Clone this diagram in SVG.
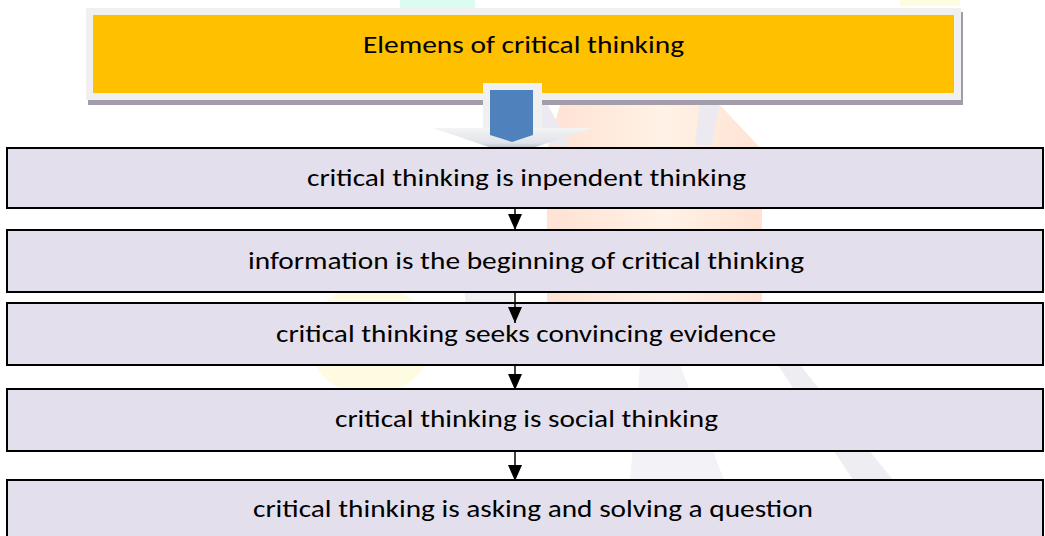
<svg xmlns="http://www.w3.org/2000/svg" width="1045" height="536" viewBox="0 0 1045 536">
<style>
.box{fill:#e4dfec;stroke:#000;stroke-width:2}
.t{font-family:Carlito,Calibri,"Liberation Sans",sans-serif;font-size:25px;fill:#000;text-anchor:middle}
.c{stroke:#000;stroke-width:1.5;fill:none}
</style>
<defs>
<marker id="ah" viewBox="0 0 16 14" refX="16" refY="7" markerWidth="16" markerHeight="14" markerUnits="userSpaceOnUse" orient="auto"><path d="M0,0 L16,7 L0,14 Z" fill="#000"/></marker>
<linearGradient id="hg" x1="0" y1="0" x2="0" y2="1"><stop offset="0" stop-color="#f4f4f4"/><stop offset="0.55" stop-color="#dfe3ea"/><stop offset="1" stop-color="#7f8ea3"/></linearGradient>
<linearGradient id="og" x1="0" y1="0" x2="1" y2="0"><stop offset="0" stop-color="#ffe2d3"/><stop offset="0.55" stop-color="#fff2e6"/><stop offset="1" stop-color="#ffe2d3"/></linearGradient>
</defs>
<rect width="1045" height="536" fill="#fff"/>
<g id="watermark">
<path d="M560,105 L720,105 L762,150 L762,310 L547,310 L547,150 Z" fill="url(#og)"/>
<ellipse cx="370" cy="340" rx="62" ry="55" fill="#fffbe3"/>
<rect x="400" y="0" width="75" height="8" fill="#dcfbf1"/>
<rect x="900" y="0" width="60" height="6" fill="#fffbe0"/>
<rect x="465" y="292" width="48" height="12" fill="#f0eff2"/>
<path d="M640,365 L680,365 L724,480 L630,480 Z" fill="#f3f2f6"/>
<path d="M778,365 L800,365 L893,480 L853,480 Z" fill="#eeedf2"/>
<path d="M520,100 L545,100 L570,145 L550,145 Z" fill="#eceaf0"/>
<path d="M700,100 L720,100 L712,145 L695,145 Z" fill="#eceaf0"/>
</g>
<g id="header">
<rect x="88" y="12" width="875" height="93" fill="#a29cab"/>
<rect x="86" y="8" width="875" height="92" fill="#f0f0f0"/>
<rect x="93" y="15" width="861" height="78" fill="#ffc000"/>
<text class="t" x="523.5" y="53" textLength="321" lengthAdjust="spacingAndGlyphs">Elemens of critical thinking</text>
</g>
<g id="bigarrow">
<rect x="483" y="83" width="59" height="47" fill="#f0f0f0"/>
<path d="M433,128 L592,128 L512,155 Z" fill="url(#hg)"/>
<path d="M490,90 L533,90 L533,135 L512,142 L490,135 Z" fill="#4f81bd"/>
</g>
<g id="n1"><rect class="box" x="7" y="148" width="1036" height="60"/>
<text class="t" x="526.5" y="186" textLength="439" lengthAdjust="spacingAndGlyphs">critical thinking is inpendent thinking</text></g>
<g id="n2"><rect class="box" x="7" y="230" width="1036" height="62"/>
<text class="t" x="526" y="269" textLength="556" lengthAdjust="spacingAndGlyphs">information is the beginning of critical thinking</text></g>
<g id="n3"><rect class="box" x="7" y="303" width="1036" height="62"/>
<text class="t" x="526" y="342" textLength="500" lengthAdjust="spacingAndGlyphs">critical thinking seeks convincing evidence</text></g>
<g id="n4"><rect class="box" x="7" y="389" width="1036" height="62"/>
<text class="t" x="526.5" y="427" textLength="383" lengthAdjust="spacingAndGlyphs">critical thinking is social thinking</text></g>
<g id="n5"><rect class="box" x="7" y="480" width="1036" height="62"/>
<text class="t" x="533" y="517" textLength="560" lengthAdjust="spacingAndGlyphs">critical thinking is asking and solving a question</text></g>
<g id="connectors">
<line class="c" x1="515" y1="208" x2="515" y2="230" marker-end="url(#ah)"/>
<line class="c" x1="515" y1="292" x2="515" y2="323" marker-end="url(#ah)"/>
<line class="c" x1="515" y1="365" x2="515" y2="390" marker-end="url(#ah)"/>
<line class="c" x1="515" y1="451" x2="515" y2="481" marker-end="url(#ah)"/>
</g>
</svg>
